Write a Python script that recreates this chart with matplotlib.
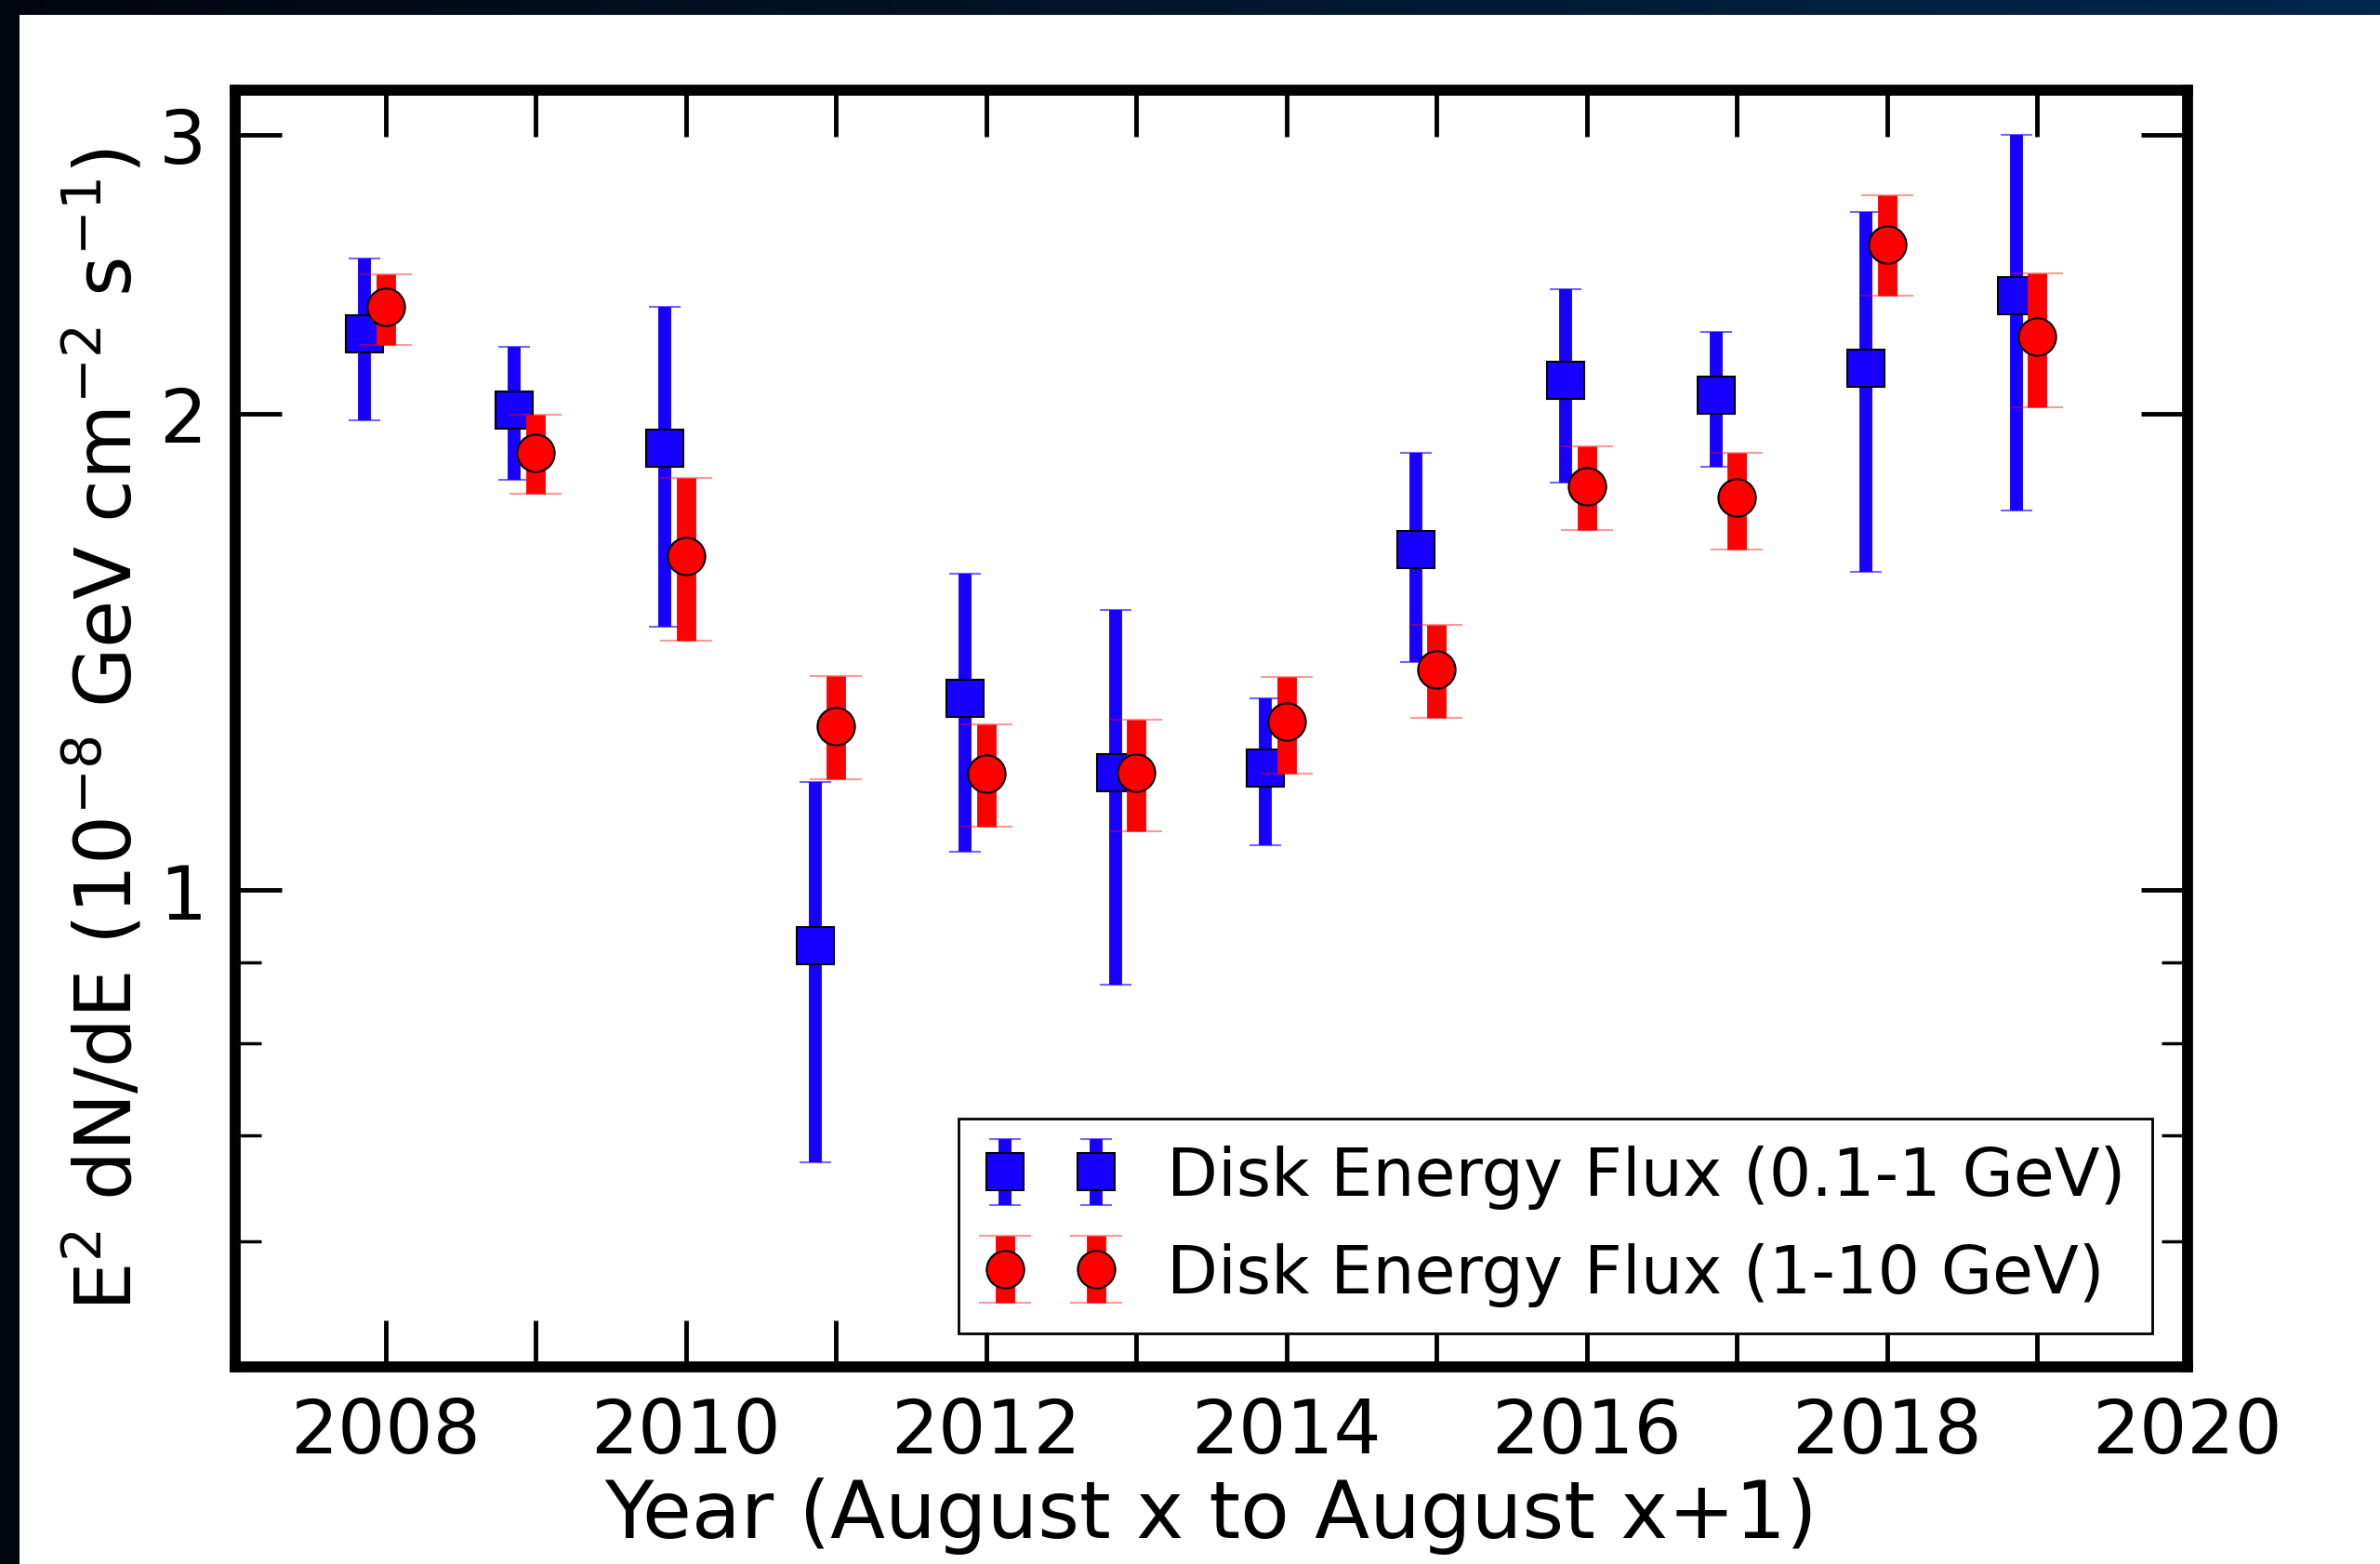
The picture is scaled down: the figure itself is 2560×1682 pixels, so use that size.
import matplotlib
matplotlib.use("Agg")
import matplotlib.pyplot as plt
import numpy as np
from matplotlib.ticker import FixedLocator, NullFormatter, FuncFormatter
from matplotlib.patches import Rectangle

# Years (August x to August x+1)
anos = [2008, 2009, 2010, 2011, 2012, 2013, 2014, 2015, 2016, 2017, 2018, 2019]

# Disk energy flux 0.1-1 GeV (blue squares): value, lower and upper ends of the error bar
fluxo_baixo = [2.244, 2.010, 1.901, 0.923, 1.321, 1.187, 1.195, 1.641, 2.100, 2.054, 2.135, 2.374]
fluxo_baixo_min = [1.979, 1.816, 1.467, 0.673, 1.057, 0.872, 1.068, 1.394, 1.808, 1.852, 1.588, 1.737]
fluxo_baixo_max = [2.504, 2.204, 2.334, 1.171, 1.585, 1.503, 1.322, 1.889, 2.396, 2.253, 2.679, 3.000]

# Disk energy flux 1-10 GeV (red circles)
fluxo_alto = [2.334, 1.889, 1.626, 1.270, 1.185, 1.187, 1.277, 1.379, 1.800, 1.769, 2.558, 2.236]
fluxo_alto_min = [2.209, 1.780, 1.438, 1.175, 1.097, 1.090, 1.185, 1.285, 1.689, 1.641, 2.372, 2.018]
fluxo_alto_max = [2.449, 1.996, 1.820, 1.366, 1.273, 1.282, 1.364, 1.470, 1.906, 1.889, 2.747, 2.452]

rotulo_baixo = "Disk Energy Flux (0.1-1 GeV)"
rotulo_alto = "Disk Energy Flux (1-10 GeV)"

anos = np.array(anos, dtype=float)
fb = np.array(fluxo_baixo)
fa = np.array(fluxo_alto)
erro_baixo = [fb - np.array(fluxo_baixo_min), np.array(fluxo_baixo_max) - fb]
erro_alto = [fa - np.array(fluxo_alto_min), np.array(fluxo_alto_max) - fa]

fig = plt.figure(figsize=(25.6, 16.83), dpi=100)
fig.patch.set_facecolor("white")
ax = fig.add_axes([253 / 2560, 1 - 1471 / 1683, 2100 / 2560, 1373 / 1683])

# blue series, shifted a bit to the left
eb1 = ax.errorbar(anos - 0.14, fb, yerr=erro_baixo, fmt="s", color="#1800ff",
                  mec="black", mew=1.5, ms=29, elinewidth=10, capsize=12,
                  capthick=2, label=rotulo_baixo, zorder=3)
# red series
eb2 = ax.errorbar(anos, fa, yerr=erro_alto, fmt="o", color="#ff0000",
                  mec="black", mew=1.5, ms=29, elinewidth=15, capsize=20.5,
                  capthick=2, label=rotulo_alto, zorder=4)
for c in eb1[1]:
    c.set_alpha(0.6)
for c in eb2[1]:
    c.set_alpha(0.4)

ax.set_yscale("log")
ax.set_xlim(2007, 2020)
ax.set_ylim(0.5, 3.2)

ax.xaxis.set_major_locator(FixedLocator(np.arange(2007, 2021)))
ax.xaxis.set_major_formatter(FuncFormatter(lambda v, p: "%d" % v if int(round(v)) % 2 == 0 and v > 2007 else ""))
ax.yaxis.set_major_locator(FixedLocator([1, 2, 3]))
ax.yaxis.set_major_formatter(FuncFormatter(lambda v, p: "%d" % v))
ax.yaxis.set_minor_locator(FixedLocator([0.6, 0.7, 0.8, 0.9]))
ax.yaxis.set_minor_formatter(NullFormatter())

ax.tick_params(which="both", direction="in", top=True, right=True, labelsize=58, pad=22)
ax.tick_params(which="major", length=36, width=3.5)
ax.tick_params(which="minor", length=20, width=2.5)

for s in ax.spines.values():
    s.set_linewidth(8.5)

ax.set_xlabel("Year (August x to August x+1)", fontsize=62)
ax.set_ylabel(r"E$^2$ dN/dE (10$^{-8}$ GeV cm$^{-2}$ s$^{-1}$)", fontsize=60)
ax.xaxis.set_label_coords(0.5, -0.086)
ax.yaxis.set_label_coords(-0.045, 0.5)

leg = ax.legend(loc="lower right", bbox_to_anchor=(0.982, 0.0265), borderaxespad=0,
                numpoints=2, fontsize=51.4, handlelength=1.97, handletextpad=0.77,
                borderpad=0.4, labelspacing=0.5, fancybox=False, framealpha=1)
leg.get_frame().set_edgecolor("black")
leg.get_frame().set_linewidth(2)

# dark frame of the slide around the picture
faixa = fig.add_axes([0, 1 - 17 / 1683, 1, 17 / 1683])
grad = np.linspace(0, 1, 256)
c0 = np.array([2, 6, 14]) / 255
c1 = np.array([0, 38, 76]) / 255
img = (c0[None, :] * (1 - grad[:, None]) + c1[None, :] * grad[:, None])[None, :, :]
faixa.imshow(img, aspect="auto", extent=[0, 1, 0, 1])
faixa.set_axis_off()
fig.patches.append(Rectangle((0, 0), 21 / 2560, 1, transform=fig.transFigure,
                             facecolor="#02060e", edgecolor="none", zorder=10))

fig.savefig("out.png", dpi=100)
